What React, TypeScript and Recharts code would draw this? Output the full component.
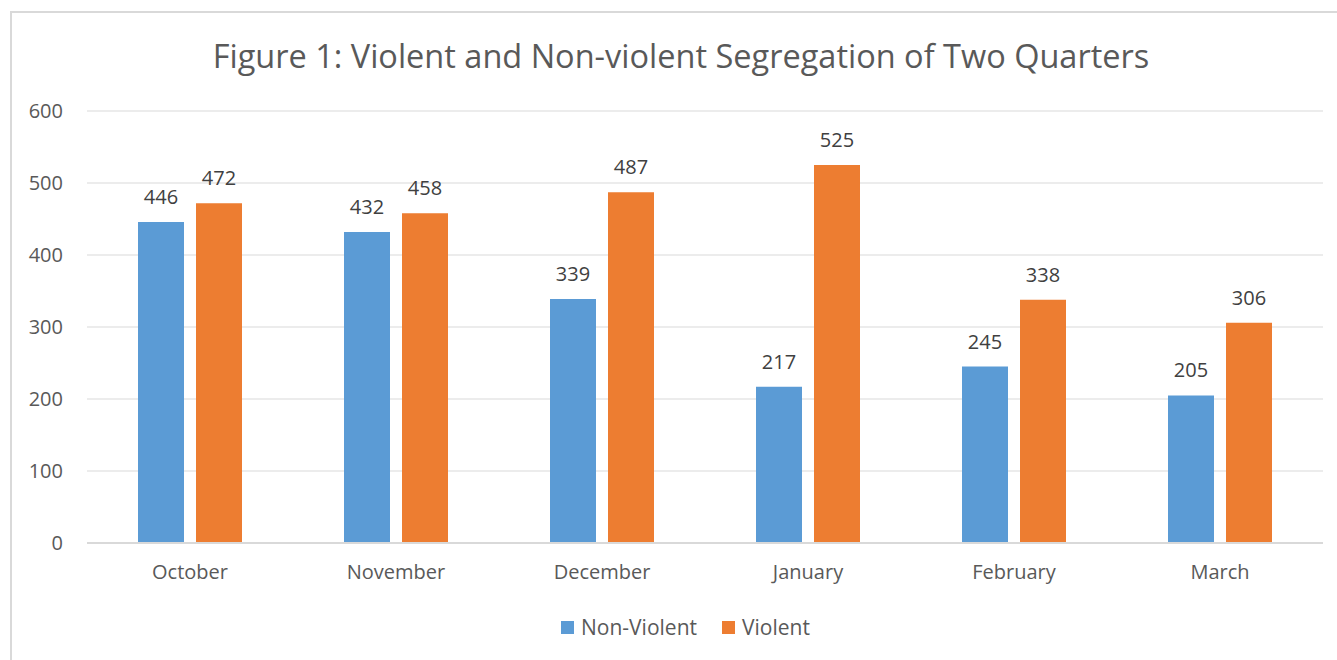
import React from 'react';
import { BarChart, Bar, XAxis, YAxis, CartesianGrid, LabelList } from 'recharts';

const months = ['October', 'November', 'December', 'January', 'February', 'March'];
const nonViolent = [446, 432, 339, 217, 245, 205];
const violent = [472, 458, 487, 525, 338, 306];
const yTicks = [0, 100, 200, 300, 400, 500, 600];

const BLUE = '#5B9BD5';
const ORANGE = '#ED7D31';
const GRID = '#D9D9D9';
const TEXT = '#595959';
const FONT = '"Open Sans", sans-serif';

const data = months.map((month, i) => ({
  month,
  nonViolent: nonViolent[i],
  violent: violent[i],
}));

const legendItems = [
  { label: 'Non-Violent', color: BLUE },
  { label: 'Violent', color: ORANGE },
];

export default function App() {
  return (
    <div
      style={{
        position: 'absolute',
        left: 0,
        top: 0,
        width: 1337,
        height: 660,
        overflow: 'hidden',
        background: '#fff',
        fontFamily: FONT,
      }}
    >
      {/* chart frame */}
      <div
        style={{
          position: 'absolute',
          left: 10,
          top: 11,
          width: 1400,
          height: 700,
          border: `2px solid ${GRID}`,
          boxSizing: 'border-box',
        }}
      />
      <svg
        width={1337}
        height={100}
        style={{ position: 'absolute', left: 0, top: 0 }}
      >
        <text
          x={681}
          y={68}
          textAnchor="middle"
          fontFamily={FONT}
          fontSize={32.5}
          fill={TEXT}
        >
          Figure 1: Violent and Non-violent Segregation of Two Quarters
        </text>
      </svg>
      <div style={{ position: 'absolute', left: 0, top: 0 }}>
        <BarChart
          width={1337}
          height={660}
          data={data}
          margin={{ top: 111, right: 14, bottom: 77, left: 0 }}
          barSize={46}
          barGap={12}
        >
          <CartesianGrid vertical={false} stroke={GRID} strokeWidth={1} />
          <XAxis
            dataKey="month"
            height={40}
            tickLine={false}
            tickSize={0}
            tickMargin={22}
            axisLine={{ stroke: GRID, strokeWidth: 2 }}
            tick={{ fill: TEXT, fontSize: 20, fontFamily: FONT }}
          />
          <YAxis
            width={87}
            domain={[0, 600]}
            ticks={yTicks}
            tickLine={false}
            axisLine={false}
            tickSize={0}
            tickMargin={24}
            tick={{ fill: TEXT, fontSize: 20, fontFamily: FONT }}
          />
          <Bar dataKey="nonViolent" name="Non-Violent" fill={BLUE} isAnimationActive={false}>
            <LabelList
              dataKey="nonViolent"
              position="top"
              offset={18}
              fill="#404040"
              fontSize={20}
              fontFamily={FONT}
            />
          </Bar>
          <Bar dataKey="violent" name="Violent" fill={ORANGE} isAnimationActive={false}>
            <LabelList
              dataKey="violent"
              position="top"
              offset={18}
              fill="#404040"
              fontSize={20}
              fontFamily={FONT}
            />
          </Bar>
        </BarChart>
      </div>
      <div
        style={{
          position: 'absolute',
          left: 561,
          top: 612,
          display: 'flex',
          alignItems: 'center',
          gap: 25,
          fontSize: 21,
          color: TEXT,
          lineHeight: '30px',
        }}
      >
        {legendItems.map((item) => (
          <div key={item.label} style={{ display: 'flex', alignItems: 'center', gap: 7 }}>
            <span style={{ display: 'inline-block', width: 13, height: 13, background: item.color }} />
            <span>{item.label}</span>
          </div>
        ))}
      </div>
    </div>
  );
}
